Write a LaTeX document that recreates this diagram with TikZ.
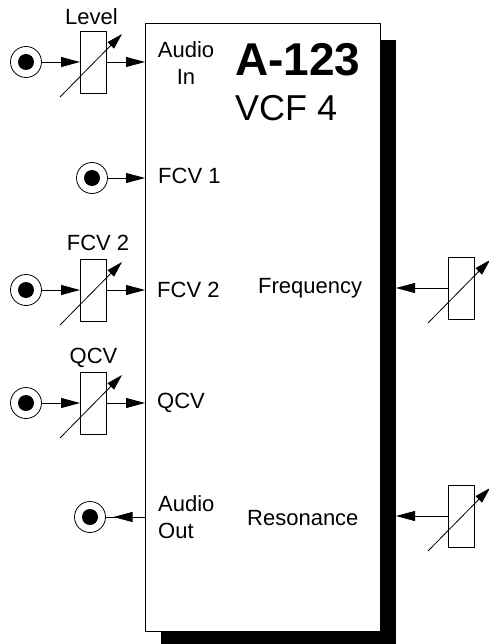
\documentclass[tikz,border=0pt]{standalone}
\usepackage{fontspec}
\setmainfont{Liberation Sans}
\usetikzlibrary{arrows.meta}
\tikzstyle{panel} = [x = 1pt, y = -1pt]
\tikzstyle{moduleStyle} = [draw, fill=white, line width=1pt, minimum width=235pt, minimum height=607pt, inner sep=0pt, outer sep=0pt]
\tikzstyle{shadowStyle} = [fill=black, minimum width=235pt, minimum height=607pt, inner sep=0pt, outer sep=0pt]
\tikzstyle{jackStyle} = [draw, circle, minimum size=31pt, inner sep=0pt, outer sep=0pt, line width=0.8pt]
\tikzstyle{potStyle} = [draw, minimum width=26pt, minimum height=62pt, inner sep=0pt, outer sep=0pt, line width=0.8pt]
\tikzstyle{signalArrow} = [line width=0.8pt, -{Triangle[length=19pt, width=10pt]}]
\tikzstyle{knobArrow} = [line width=0.8pt, -{Triangle[length=16pt, width=9pt]}]
\tikzstyle{labelText} = [font=\fontsize{22}{27}\selectfont, inner sep=0pt]
\tikzstyle{titleText} = [font=\fontsize{46}{50}\selectfont\bfseries, inner sep=0pt, anchor=west]
\tikzstyle{subTitleText} = [font=\fontsize{36}{40}\selectfont, inner sep=0pt, anchor=west]
\newcommand{\jackNode}[3]{\node [jackStyle] (#1) at (#2, #3) {}; \fill (#1.center) circle (8pt);}
\newcommand{\potNode}[3]{\node [potStyle] (#1) at (#2, #3) {}; \draw [knobArrow] ([shift={(-33, 35)}]#1.center) -- ([shift={(29, -28)}]#1.center);}

\begin{document}
\begin{tikzpicture}[panel]
  \useasboundingbox (0, 0) rectangle (489, 644);
  \node [shadowStyle] (moduleShadow) at (278.5, 343.5) {};
  \node [moduleStyle] (module) at (262.5, 327.5) {};
  \node [titleText] (title) at (235, 60) {A-123};
  \node [subTitleText] (subTitle) at (235, 108) {VCF 4};

  % audio in
  \node [labelText] (levelLabel) at (91.5, 17) {Level};
  \jackNode{audioInJack}{26}{62}
  \potNode{levelPot}{93}{62}
  \draw [signalArrow] (audioInJack) -- (levelPot);
  \draw [signalArrow] (levelPot) -- (levelPot -| module.west);
  \node [labelText, align=center] (audioInLabel) at (186, 63) {Audio\\In};

  % fcv 1
  \jackNode{fcvOneJack}{92}{178}
  \draw [signalArrow] (fcvOneJack) -- (fcvOneJack -| module.west);
  \node [labelText, anchor=west] (fcvOneLabel) at (158, 176) {FCV 1};

  % fcv 2
  \node [labelText] (fcvTwoKnobLabel) at (98, 243) {FCV 2};
  \jackNode{fcvTwoJack}{26}{290}
  \potNode{fcvTwoPot}{93}{290}
  \draw [signalArrow] (fcvTwoJack) -- (fcvTwoPot);
  \draw [signalArrow] (fcvTwoPot) -- (fcvTwoPot -| module.west);
  \node [labelText, anchor=west] (fcvTwoLabel) at (157, 290) {FCV 2};

  % qcv
  \node [labelText] (qcvKnobLabel) at (93.5, 358) {QCV};
  \jackNode{qcvJack}{26}{403}
  \potNode{qcvPot}{93}{403}
  \draw [signalArrow] (qcvJack) -- (qcvPot);
  \draw [signalArrow] (qcvPot) -- (qcvPot -| module.west);
  \node [labelText, anchor=west] (qcvLabel) at (157, 403) {QCV};

  % audio out
  \jackNode{audioOutJack}{90}{517}
  \draw [line width=0.8pt] (audioOutJack) -- (audioOutJack -| module.west);
  \draw [signalArrow, shorten >=8pt] (audioOutJack -| module.west) -- (audioOutJack);
  \node [labelText, align=left, anchor=west] (audioOutLabel) at (158, 517) {Audio\\Out};

  % frequency and resonance
  \potNode{frequencyPot}{461}{288}
  \draw [signalArrow] (frequencyPot) -- (frequencyPot -| moduleShadow.east);
  \node [labelText, anchor=base west] (frequencyLabel) at (258, 293) {Frequency};
  \potNode{resonancePot}{461}{516}
  \draw [signalArrow] (resonancePot) -- (resonancePot -| moduleShadow.east);
  \node [labelText, anchor=west] (resonanceLabel) at (247, 518.5) {Resonance};
\end{tikzpicture}
\end{document}
